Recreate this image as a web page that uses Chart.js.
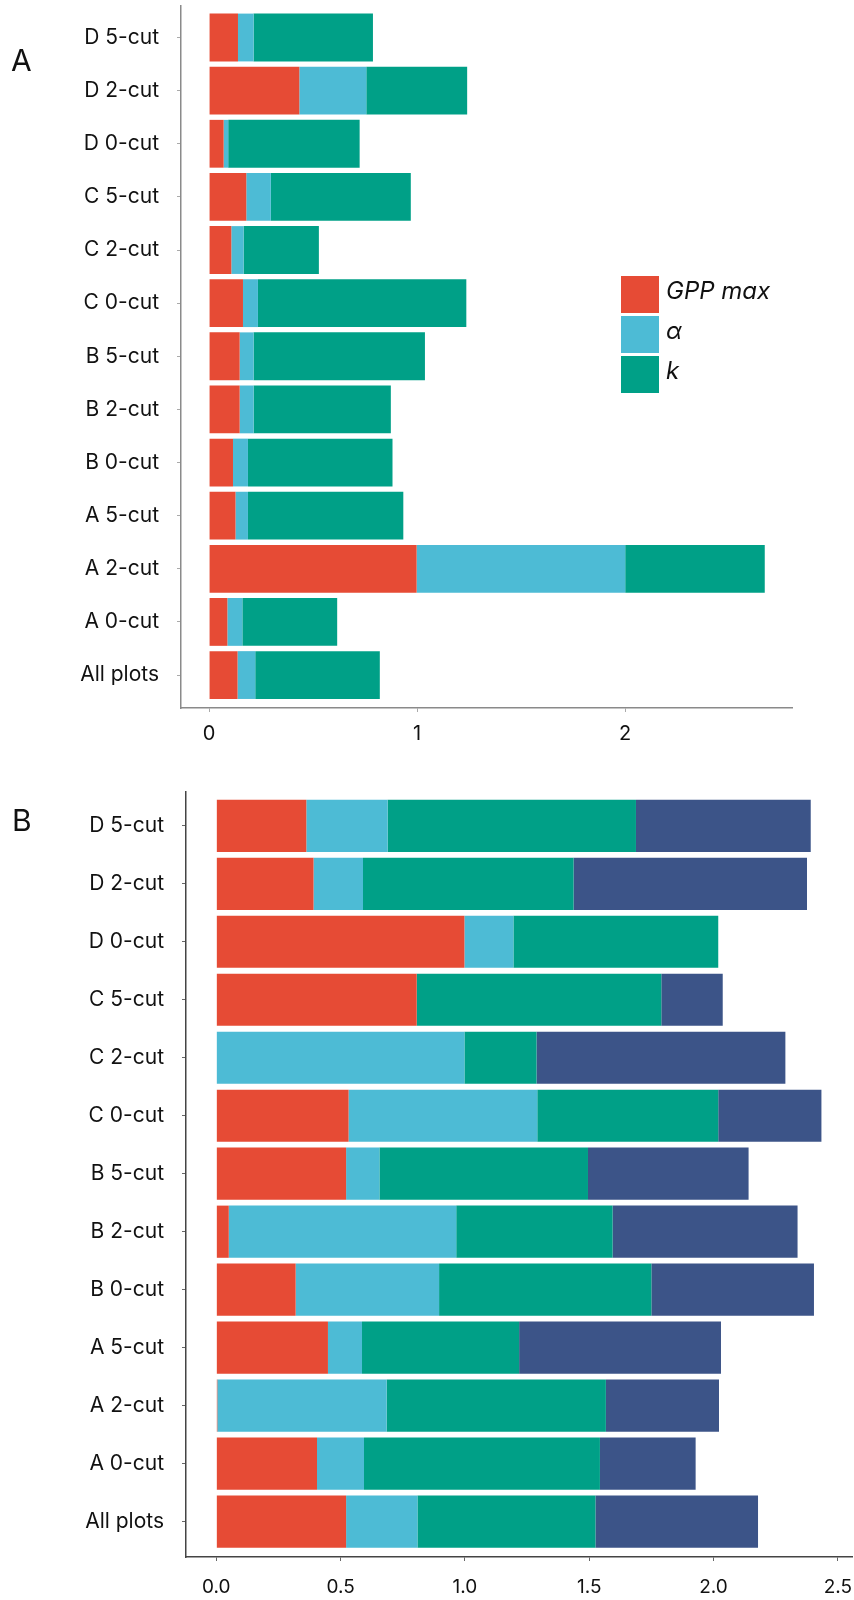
<!DOCTYPE html>
<html>
<head>
<meta charset="utf-8">
<script src="https://cdn.jsdelivr.net/npm/chart.js@4.4.1/dist/chart.umd.min.js"></script>
<style>
  html, body { margin: 0; padding: 0; background: #fff; }
  body { width: 854px; height: 1600px; position: relative; overflow: hidden; font-family: Inter, sans-serif; }
  .panel { position: absolute; left: 0; width: 854px; }
  .tag { position: absolute; font-size: 30px; line-height: 1; color: #111; }
  .legend { position: absolute; left: 621px; top: 274px; }
  .legend .item { display: flex; align-items: center; height: 40px; }
  .legend .sw { width: 38px; height: 37px; margin-right: 7px; }
  .legend .tx { font-style: italic; font-size: 24px; color: #111; position: relative; top: -4px; }
</style>
</head>
<body>
<div class="panel" style="top:0;height:760px"><canvas id="chartA" width="854" height="760"></canvas></div>
<div class="panel" style="top:760px;height:840px"><canvas id="chartB" width="854" height="840"></canvas></div>
<div class="tag" style="left:11px;top:45px">A</div>
<div class="tag" style="left:12px;top:805px">B</div>
<div class="legend" id="legendA"></div>

<script>
// Plot groups, listed top to bottom
const categories = ['D 5-cut', 'D 2-cut', 'D 0-cut', 'C 5-cut', 'C 2-cut', 'C 0-cut',
                    'B 5-cut', 'B 2-cut', 'B 0-cut', 'A 5-cut', 'A 2-cut', 'A 0-cut', 'All plots'];

// Panel A: three light-response parameters
const seriesA = ['GPP max', 'α', 'k'];
const gppA   = [0.139, 0.434, 0.070, 0.179, 0.107, 0.163, 0.147, 0.147, 0.115, 0.127, 0.998, 0.088, 0.137];
const alphaA = [0.075, 0.322, 0.022, 0.118, 0.059, 0.072, 0.067, 0.067, 0.072, 0.060, 1.003, 0.072, 0.085];
const kA     = [0.574, 0.485, 0.632, 0.673, 0.362, 1.002, 0.824, 0.660, 0.695, 0.747, 0.671, 0.456, 0.599];

// Panel B: four parameters
const seriesB = ['GPP max', 'α', 'k', 'Other'];
const gppB    = [0.362, 0.391, 0.998, 0.806, 0.000, 0.532, 0.522, 0.050, 0.319, 0.449, 0.004, 0.405, 0.522];
const alphaB  = [0.327, 0.199, 0.197, 0.000, 0.998, 0.759, 0.134, 0.915, 0.577, 0.137, 0.681, 0.189, 0.287];
const kB      = [0.999, 0.847, 0.824, 0.984, 0.290, 0.728, 0.839, 0.629, 0.854, 0.632, 0.882, 0.949, 0.716];
const otherB  = [0.703, 0.939, 0.000, 0.247, 1.001, 0.415, 0.646, 0.744, 0.654, 0.812, 0.455, 0.385, 0.654];

// Value-axis ticks
const ticksA = [0, 1, 2];
const tickLabelsA = ['0', '1', '2'];
const ticksB = [0, 0.5, 1, 1.5, 2, 2.5];
const tickLabelsB = ['0.0', '0.5', '1.0', '1.5', '2.0', '2.5'];

const palette = ['#E64B35', '#4DBBD5', '#00A087', '#3C5488'];

Chart.defaults.font.family = "Inter, sans-serif";

function toDatasets(names, arrays) {
  return names.map((name, s) => ({
    label: name,
    data: arrays[s].map((v, i) => ({ x: v, y: i })),
    backgroundColor: palette[s],
    borderWidth: 0
  }));
}

function makeOptions(cfg) {
  const gridCfg = { display: true, offset: false, drawOnChartArea: false, drawTicks: true, tickLength: 4, color: cfg.tickColor };
  const borderCfg = { display: true, color: cfg.axisColor, width: cfg.axisWidth };
  return {
    indexAxis: 'y',
    responsive: false,
    animation: false,
    layout: { padding: { top: cfg.top, right: cfg.right, left: 0, bottom: 0 } },
    plugins: { legend: { display: false }, tooltip: { enabled: false } },
    datasets: { bar: { barPercentage: 0.9, categoryPercentage: 1.0 } },
    scales: {
      x: {
        type: 'linear', stacked: true, min: cfg.xMin, max: cfg.xMax, offset: false,
        afterBuildTicks: s => { s.ticks = cfg.xTicks.map(v => ({ value: v })); },
        afterFit: s => { s.height = cfg.xHeight; s.paddingLeft = 0; s.paddingRight = 0; },
        ticks: {
          autoSkip: false, maxRotation: 0, color: '#111', padding: cfg.xPad,
          font: { size: cfg.xFont },
          callback: (v, i) => cfg.xLabels[i]
        },
        grid: gridCfg, border: borderCfg
      },
      y: {
        type: 'linear', stacked: true, reverse: true, min: cfg.yMin, max: cfg.yMax, offset: false,
        afterBuildTicks: s => { s.ticks = categories.map((c, i) => ({ value: i })); },
        afterFit: s => { s.width = cfg.yWidth; s.paddingTop = 0; s.paddingBottom = 0; },
        ticks: {
          autoSkip: false, color: '#111', padding: cfg.yPad,
          font: { size: 21 },
          callback: v => categories[v]
        },
        grid: gridCfg, border: borderCfg
      }
    }
  };
}

const chartA = new Chart(document.getElementById('chartA'), {
  type: 'bar',
  data: { datasets: toDatasets(seriesA, [gppA, alphaA, kA]) },
  options: makeOptions({
    top: 6, right: 62, xHeight: 52, yWidth: 181,
    xMin: -0.135, xMax: 2.803, yMin: -0.593, yMax: 12.62,
    xTicks: ticksA, xLabels: tickLabelsA, xFont: 20, xPad: 10, yPad: 18,
    tickColor: '#aaaaaa', axisColor: '#8a8a8a', axisWidth: 1.5
  })
});

const chartB = new Chart(document.getElementById('chartB'), {
  type: 'bar',
  data: { datasets: toDatasets(seriesB, [gppB, alphaB, kB, otherB]) },
  options: makeOptions({
    top: 32, right: 2, xHeight: 43, yWidth: 186,
    xMin: -0.122, xMax: 2.557, yMin: -0.583, yMax: 12.61,
    xTicks: ticksB, xLabels: tickLabelsB, xFont: 19, xPad: 15, yPad: 18,
    tickColor: '#666666', axisColor: '#444444', axisWidth: 1.5
  })
});

// Legend for panel A, built from its datasets
const legendEl = document.getElementById('legendA');
chartA.data.datasets.forEach(ds => {
  const item = document.createElement('div');
  item.className = 'item';
  const sw = document.createElement('div');
  sw.className = 'sw';
  sw.style.background = ds.backgroundColor;
  const tx = document.createElement('span');
  tx.className = 'tx';
  tx.textContent = ds.label;
  item.appendChild(sw);
  item.appendChild(tx);
  legendEl.appendChild(item);
});
</script>
</body>
</html>
